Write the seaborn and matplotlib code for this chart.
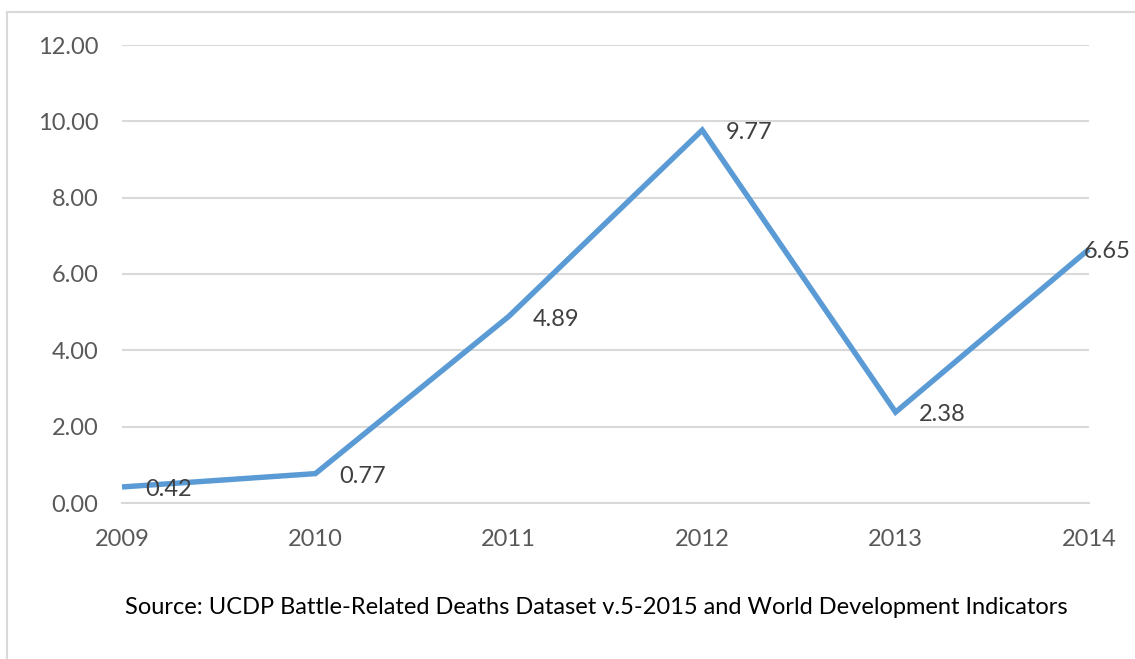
import matplotlib
matplotlib.use("Agg")
import matplotlib.pyplot as plt
import seaborn as sns
import pandas as pd
from matplotlib.patches import Rectangle

years = [2009, 2010, 2011, 2012, 2013, 2014]
values = [0.42, 0.77, 4.89, 9.77, 2.38, 6.65]
y_ticks = [0, 2, 4, 6, 8, 10, 12]
source = "Source: UCDP Battle-Related Deaths Dataset v.5-2015 and World Development Indicators"

sns.set_theme(style="white")
plt.rcParams["font.family"] = ["Lato", "DejaVu Sans"]

W, H = 1135, 659
fig = plt.figure(figsize=(W / 100, H / 100), dpi=100)
ax = fig.add_axes([122 / W, 1 - 503 / H, (1089 - 122) / W, (503 - 45) / H])

df = pd.DataFrame({"year": years, "value": values})
sns.lineplot(data=df, x="year", y="value", ax=ax, color="#5B9BD5",
             linewidth=3.9, solid_joinstyle="miter", solid_capstyle="butt",
             zorder=5, clip_on=False)

grid_col = "#D9D9D9"
ax.set_xlim(years[0], years[-1])
ax.set_ylim(y_ticks[0], y_ticks[-1])
ax.set_yticks(y_ticks)
ax.set_yticklabels([f"{t:.2f}" for t in y_ticks])
ax.set_xticks(years)
ax.set_xticklabels([str(y) for y in years])
ax.yaxis.grid(True, color=grid_col, linewidth=1.5)
ax.set_axisbelow(True)
for s in ["top", "right", "left"]:
    ax.spines[s].set_visible(False)
ax.spines["bottom"].set_color(grid_col)
ax.spines["bottom"].set_linewidth(1.5)
ax.tick_params(axis="y", length=0, pad=17, labelsize=17, labelcolor="#595959")
ax.tick_params(axis="x", direction="inout", length=12, width=1.5, color=grid_col,
               pad=13, labelsize=17, labelcolor="#595959")
ax.set_xlabel("")
ax.set_ylabel("")

# data labels to the right of each point
for i, (x, v) in enumerate(zip(years, values)):
    dx = 17 if i < len(years) - 1 else -4
    ax.annotate(f"{v:.2f}", (x, v), xytext=(dx, -2), textcoords="offset points",
                ha="left", va="center", fontsize=17, color="#404040",
                annotation_clip=False, zorder=6)

fig.text(596 / W, 1 - 608 / H, source, ha="center", va="center",
         fontsize=17, color="#000000")

# chart-area border (light grey)
fig.patches.append(Rectangle((7 / W, -0.1), 1.2, 1 - 12 / H + 0.1,
                             transform=fig.transFigure, fill=False,
                             edgecolor=grid_col, linewidth=1.5))

fig.savefig("out.png", dpi=100)
